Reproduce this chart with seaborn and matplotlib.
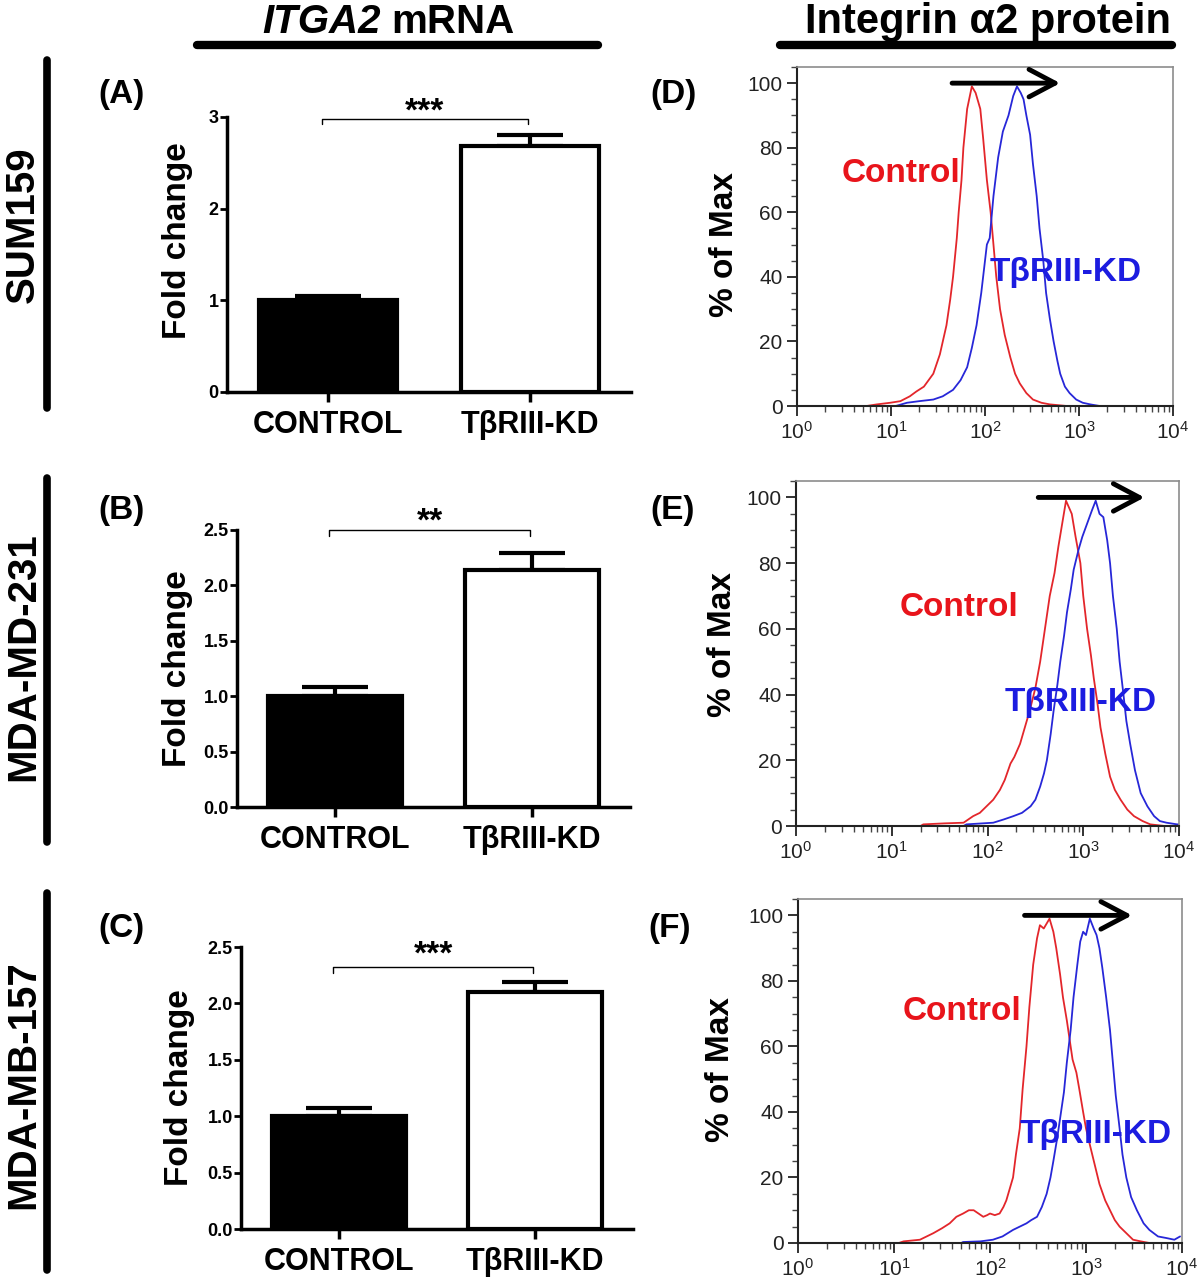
import matplotlib
matplotlib.use("Agg")
import matplotlib.pyplot as plt
from matplotlib.lines import Line2D
from matplotlib.ticker import LogLocator, LogFormatterMathtext, MultipleLocator, NullFormatter, FixedLocator
import numpy as np
import pandas as pd
import seaborn as sns

sns.set_style("ticks")
plt.rcParams["font.family"] = ["Liberation Sans", "DejaVu Sans"]
plt.rcParams["text.color"] = "black"
plt.rcParams["axes.labelcolor"] = "black"
plt.rcParams["xtick.color"] = "black"
plt.rcParams["ytick.color"] = "black"

W, H = 1200, 1283

# ---- qPCR bars (A-C) ----
groups = ["CONTROL", "TβRIII-KD"]
fold_a = [1.0, 2.68]
err_a = [0.05, 0.12]
fold_b = [1.0, 2.14]
err_b = [0.08, 0.15]
fold_c = [1.0, 2.10]
err_c = [0.07, 0.09]
stars = ["***", "**", "***"]
bracket_y = [2.98, 2.50, 2.32]
star_y = [3.05, 2.57, 2.43]
ymax = [3.0, 2.5, 2.5]
yticks_a = [0, 1, 2, 3]
yticks_bc = [0.0, 0.5, 1.0, 1.5, 2.0, 2.5]

# ---- flow histograms (D-F): log10 intensity, % of max ----
d_ctrl_log = [0, 0.74, 0.85, 0.99, 1.10, 1.20, 1.27, 1.35, 1.45, 1.52, 1.59, 1.63, 1.66, 1.70, 1.72, 1.75, 1.77, 1.81,
              1.86, 1.90, 1.95, 1.98, 2.02, 2.06, 2.09, 2.12, 2.16, 2.21, 2.27, 2.32, 2.37, 2.44, 2.51, 2.60, 2.69, 2.87, 4]
d_ctrl_pct = [0, 0, 0.5, 1, 1.5, 3, 4.5, 6, 10, 16, 25, 33, 40, 52, 60, 70, 80, 92,
              99, 97, 92, 83, 70, 60, 50, 40, 30, 22, 15, 10, 7, 4, 2, 1, 0.5, 0, 0]
d_kd_log = [0, 1.05, 1.17, 1.30, 1.45, 1.55, 1.66, 1.74, 1.81, 1.86, 1.91, 1.96, 2.02, 2.05, 2.09, 2.14, 2.19, 2.25,
            2.30, 2.34, 2.38, 2.41, 2.44, 2.48, 2.51, 2.55, 2.58, 2.62, 2.65, 2.69, 2.73, 2.77, 2.80, 2.85, 2.90, 2.97,
            3.04, 3.12, 3.22, 4]
d_kd_pct = [0, 0, 1, 1.5, 2, 3, 5, 8, 12, 18, 25, 35, 50, 52, 65, 77, 85, 90,
            96, 99, 97, 95, 90, 84, 75, 65, 55, 45, 35, 27, 20, 14, 10, 6, 4, 2,
            1, 0.5, 0, 0]

e_ctrl_log = [0, 1.30, 1.33, 1.55, 1.75, 1.80, 1.85, 1.92, 1.99, 2.06, 2.13, 2.18, 2.24, 2.28, 2.34, 2.39, 2.44, 2.50,
              2.55, 2.60, 2.65, 2.70, 2.74, 2.78, 2.82, 2.85, 2.88, 2.92, 2.97, 3.00, 3.04, 3.08, 3.11, 3.15, 3.18, 3.23,
              3.28, 3.33, 3.39, 3.46, 3.53, 3.62, 3.70, 3.85, 4]
e_ctrl_pct = [0, 0, 0.5, 0.8, 1, 2, 3, 4, 6, 8, 11, 14, 19, 21, 25, 30, 35, 42,
              50, 60, 70, 77, 85, 92, 99, 97, 95, 88, 80, 70, 60, 52, 45, 37, 30, 22,
              15, 11, 8, 5, 3, 1.5, 0.5, 0, 0]
e_kd_log = [0, 1.75, 1.78, 2.06, 2.17, 2.27, 2.36, 2.45, 2.50, 2.55, 2.59, 2.62, 2.66, 2.69, 2.73, 2.76, 2.80, 2.83,
            2.87, 2.90, 2.95, 2.99, 3.04, 3.09, 3.13, 3.17, 3.21, 3.25, 3.28, 3.31, 3.35, 3.38, 3.42, 3.45, 3.49, 3.54,
            3.60, 3.67, 3.74, 3.80, 3.87, 3.98, 4]
e_kd_pct = [0, 0, 0.5, 1, 2, 3, 4, 6, 8, 12, 16, 20, 28, 35, 43, 50, 58, 65,
            72, 78, 84, 88, 92, 96, 99, 95, 94, 87, 80, 70, 60, 50, 40, 32, 25, 17,
            10, 6, 3, 1.5, 1, 0.5, 0.5]

f_ctrl_log = [0, 1.05, 1.10, 1.27, 1.34, 1.41, 1.50, 1.58, 1.65, 1.72, 1.78, 1.83, 1.88, 1.93, 1.97, 2.00, 2.05, 2.10,
              2.14, 2.17, 2.20, 2.24, 2.27, 2.31, 2.34, 2.38, 2.41, 2.45, 2.49, 2.52, 2.56, 2.62, 2.66, 2.69, 2.73, 2.76,
              2.80, 2.83, 2.86, 2.90, 2.93, 2.97, 3.00, 3.04, 3.09, 3.14, 3.20, 3.25, 3.30, 3.35, 3.42, 3.49, 3.57, 3.66, 4]
f_ctrl_pct = [0, 0, 0.5, 1, 2, 3, 4.5, 6, 8, 9, 10, 10, 9, 8, 8.5, 9, 8.5, 9,
              11, 13, 16, 20, 27, 35, 47, 60, 72, 85, 93, 97, 96, 99, 95, 90, 82, 75,
              68, 62, 56, 52, 47, 40, 35, 30, 24, 18, 13, 10, 7, 5, 3, 1, 0.5, 0, 0]
f_kd_log = [0, 1.70, 1.72, 1.90, 2.03, 2.13, 2.24, 2.31, 2.38, 2.43, 2.49, 2.54, 2.59, 2.63, 2.66, 2.70, 2.73, 2.77,
            2.80, 2.84, 2.87, 2.91, 2.94, 2.97, 3.00, 3.04, 3.08, 3.11, 3.14, 3.17, 3.21, 3.25, 3.28, 3.31, 3.35, 3.38,
            3.42, 3.47, 3.53, 3.60, 3.66, 3.75, 3.84, 3.92, 3.98]
f_kd_pct = [0, 0, 0.3, 0.5, 1, 2, 4, 5, 6, 7, 8, 11, 15, 20, 25, 32, 38, 46,
            55, 65, 75, 85, 92, 95, 94, 99, 96, 94, 90, 84, 75, 65, 55, 45, 35, 27,
            20, 14, 10, 6, 4, 2, 1.5, 1, 2]

RED = "#e3262b"
BLUE = "#2727d8"


def fig_rect(left, right, bottom, top):
    return [left / W, 1 - bottom / H, (right - left) / W, (bottom - top) / H]


fig = plt.figure(figsize=(W / 100, H / 100), dpi=100)

# ---------- bar panels ----------
bar_boxes = [(227, 631, 392, 117), (237, 630, 807, 530), (241, 633, 1229, 947)]
bar_sets = [(fold_a, err_a), (fold_b, err_b), (fold_c, err_c)]
ylab_pos = [(-0.085, 0.55), (-0.112, 0.5), (-0.118, 0.5)]

for i, (box, (vals, errs)) in enumerate(zip(bar_boxes, bar_sets)):
    ax = fig.add_axes(fig_rect(*box))
    df = pd.DataFrame({"group": groups, "fold": vals})
    sns.barplot(data=df, x="group", y="fold", hue="group", palette=["black", "white"],
                edgecolor="black", linewidth=3, width=0.68, legend=False, ax=ax, zorder=2)
    ax.errorbar([0, 1], vals, yerr=[[0, 0], errs], fmt="none", ecolor="black",
                elinewidth=3, capsize=24, capthick=3, zorder=1)
    ax.set_xlim(-0.5, 1.5)
    ax.set_ylim(0, ymax[i])
    ax.set_yticks(yticks_a if i == 0 else yticks_bc)
    if i == 0:
        ax.set_yticklabels([str(t) for t in yticks_a])
    else:
        ax.set_yticklabels([f"{t:.1f}" for t in yticks_bc])
    sns.despine(ax=ax)
    for s in ["left", "bottom"]:
        ax.spines[s].set_linewidth(2.5)
        ax.spines[s].set_color("black")
    ax.tick_params(axis="y", direction="out", length=5, width=2, labelsize=13, pad=1)
    ax.tick_params(axis="x", direction="out", length=7, width=2.5, labelsize=22, pad=6)
    for lab in ax.get_yticklabels() + ax.get_xticklabels():
        lab.set_fontweight("bold")
    ax.set_xlabel("")
    ax.set_ylabel("Fold change", fontsize=24, fontweight="bold")
    ax.yaxis.set_label_coords(*ylab_pos[i])
    # significance bracket
    by = bracket_y[i]
    drop = 0.06 * ymax[i] / 3
    ax.plot([-0.03, -0.03, 0.99, 0.99], [by - drop, by, by, by - drop], color="black", lw=1, clip_on=False)
    ax.text(0.48, star_y[i], stars[i], ha="center", va="center", fontsize=24, fontweight="bold", clip_on=False)

# ---------- flow panels ----------
flow_boxes = [(797, 1173, 406, 67), (796, 1179, 826, 481), (798, 1182, 1243, 899)]
flow_data = [(d_ctrl_log, d_ctrl_pct, d_kd_log, d_kd_pct),
             (e_ctrl_log, e_ctrl_pct, e_kd_log, e_kd_pct),
             (f_ctrl_log, f_ctrl_pct, f_kd_log, f_kd_pct)]
ctrl_txt = [(0.12, 0.687), (0.27, 0.632), (0.273, 0.674)]
kd_txt = [(0.513, 0.395), (0.546, 0.357), (0.578, 0.314)]
arrows = [(1.65, 2.80), (2.53, 3.64), (2.36, 3.48)]
pct_lab = [(-0.152, 0.475), (-0.151, 0.525), (-0.161, 0.503)]

for i, (box, (cl, cp, kl, kp)) in enumerate(zip(flow_boxes, flow_data)):
    ax = fig.add_axes(fig_rect(*box))
    sns.lineplot(x=10 ** np.array(cl), y=cp, color=RED, lw=1.3, estimator=None, sort=False, ax=ax)
    sns.lineplot(x=10 ** np.array(kl), y=kp, color=BLUE, lw=1.3, estimator=None, sort=False, ax=ax)
    ax.set_xscale("log")
    ax.set_xlim(1, 1e4)
    ax.set_ylim(0, 105)
    ax.xaxis.set_major_locator(FixedLocator([1, 10, 100, 1000, 10000]))
    ax.xaxis.set_major_formatter(LogFormatterMathtext())
    ax.xaxis.set_minor_locator(LogLocator(base=10, subs=np.arange(2, 10), numticks=20))
    ax.xaxis.set_minor_formatter(NullFormatter())
    ax.yaxis.set_major_locator(MultipleLocator(20))
    ax.yaxis.set_minor_locator(MultipleLocator(5))
    for s in ["top", "right"]:
        ax.spines[s].set_color("#8c8c8c")
        ax.spines[s].set_linewidth(1.2)
    for s in ["left", "bottom"]:
        ax.spines[s].set_color("#222222")
        ax.spines[s].set_linewidth(1.5)
    ax.tick_params(which="major", direction="out", length=7, width=1.3, labelsize=15, colors="#222222")
    ax.tick_params(which="minor", direction="out", length=4, width=1.0, colors="#444444")
    ax.tick_params(axis="x", which="major", pad=4)
    ax.set_ylabel("% of Max", fontsize=24, fontweight="bold")
    ax.yaxis.set_label_coords(*pct_lab[i])
    ax.text(*ctrl_txt[i], "Control", transform=ax.transAxes, color="#e8141b",
            fontsize=24, fontweight="bold", ha="left", va="center")
    ax.text(*kd_txt[i], "TβRIII-KD", transform=ax.transAxes, color="#1c1ce0",
            fontsize=24, fontweight="bold", ha="left", va="center")
    x0, x1 = arrows[i]
    ax.annotate("", xy=(10 ** x1, 100), xytext=(10 ** x0, 100),
                arrowprops=dict(arrowstyle="->,head_length=0.85,head_width=0.45", lw=3.5,
                                color="black", mutation_scale=22, shrinkA=0, shrinkB=0),
                annotation_clip=False)


# ---------- titles, row labels, panel letters ----------
def fx(px):
    return px / W


def fy(py):
    return 1 - py / H


fig.text(fx(381), fy(22), "ITGA2", fontsize=29, fontweight="bold", fontstyle="italic", ha="right", va="center")
fig.text(fx(391), fy(22), "mRNA", fontsize=29, fontweight="bold", ha="left", va="center")
fig.add_artist(Line2D([fx(197), fx(598)], [fy(45), fy(45)], color="black", lw=6))
fig.text(fx(988), fy(22), "Integrin α2 protein", fontsize=30, fontweight="bold", ha="center", va="center")
fig.add_artist(Line2D([fx(780), fx(1172)], [fy(45), fy(45)], color="black", lw=6))

row_names = ["SUM159", "MDA-MD-231", "MDA-MB-157"]
row_centers = [225, 657, 1085]
row_bars = [(60, 408), (478, 842), (893, 1270)]
for name, yc, (b0, b1) in zip(row_names, row_centers, row_bars):
    fig.text(fx(23), fy(yc), name, rotation=90, fontsize=29, fontweight="bold", ha="center", va="center")
    fig.add_artist(Line2D([fx(47), fx(47)], [fy(b0), fy(b1)], color="black", lw=5.5))

letters = ["(A)", "(B)", "(C)", "(D)", "(E)", "(F)"]
letter_pos = [(121, 95), (121, 510), (121, 928), (673, 95), (673, 510), (670, 928)]
for lab, (px, py) in zip(letters, letter_pos):
    fig.text(fx(px), fy(py), lab, fontsize=24, fontweight="bold", ha="center", va="center")

fig.savefig("out.png", dpi=100)
